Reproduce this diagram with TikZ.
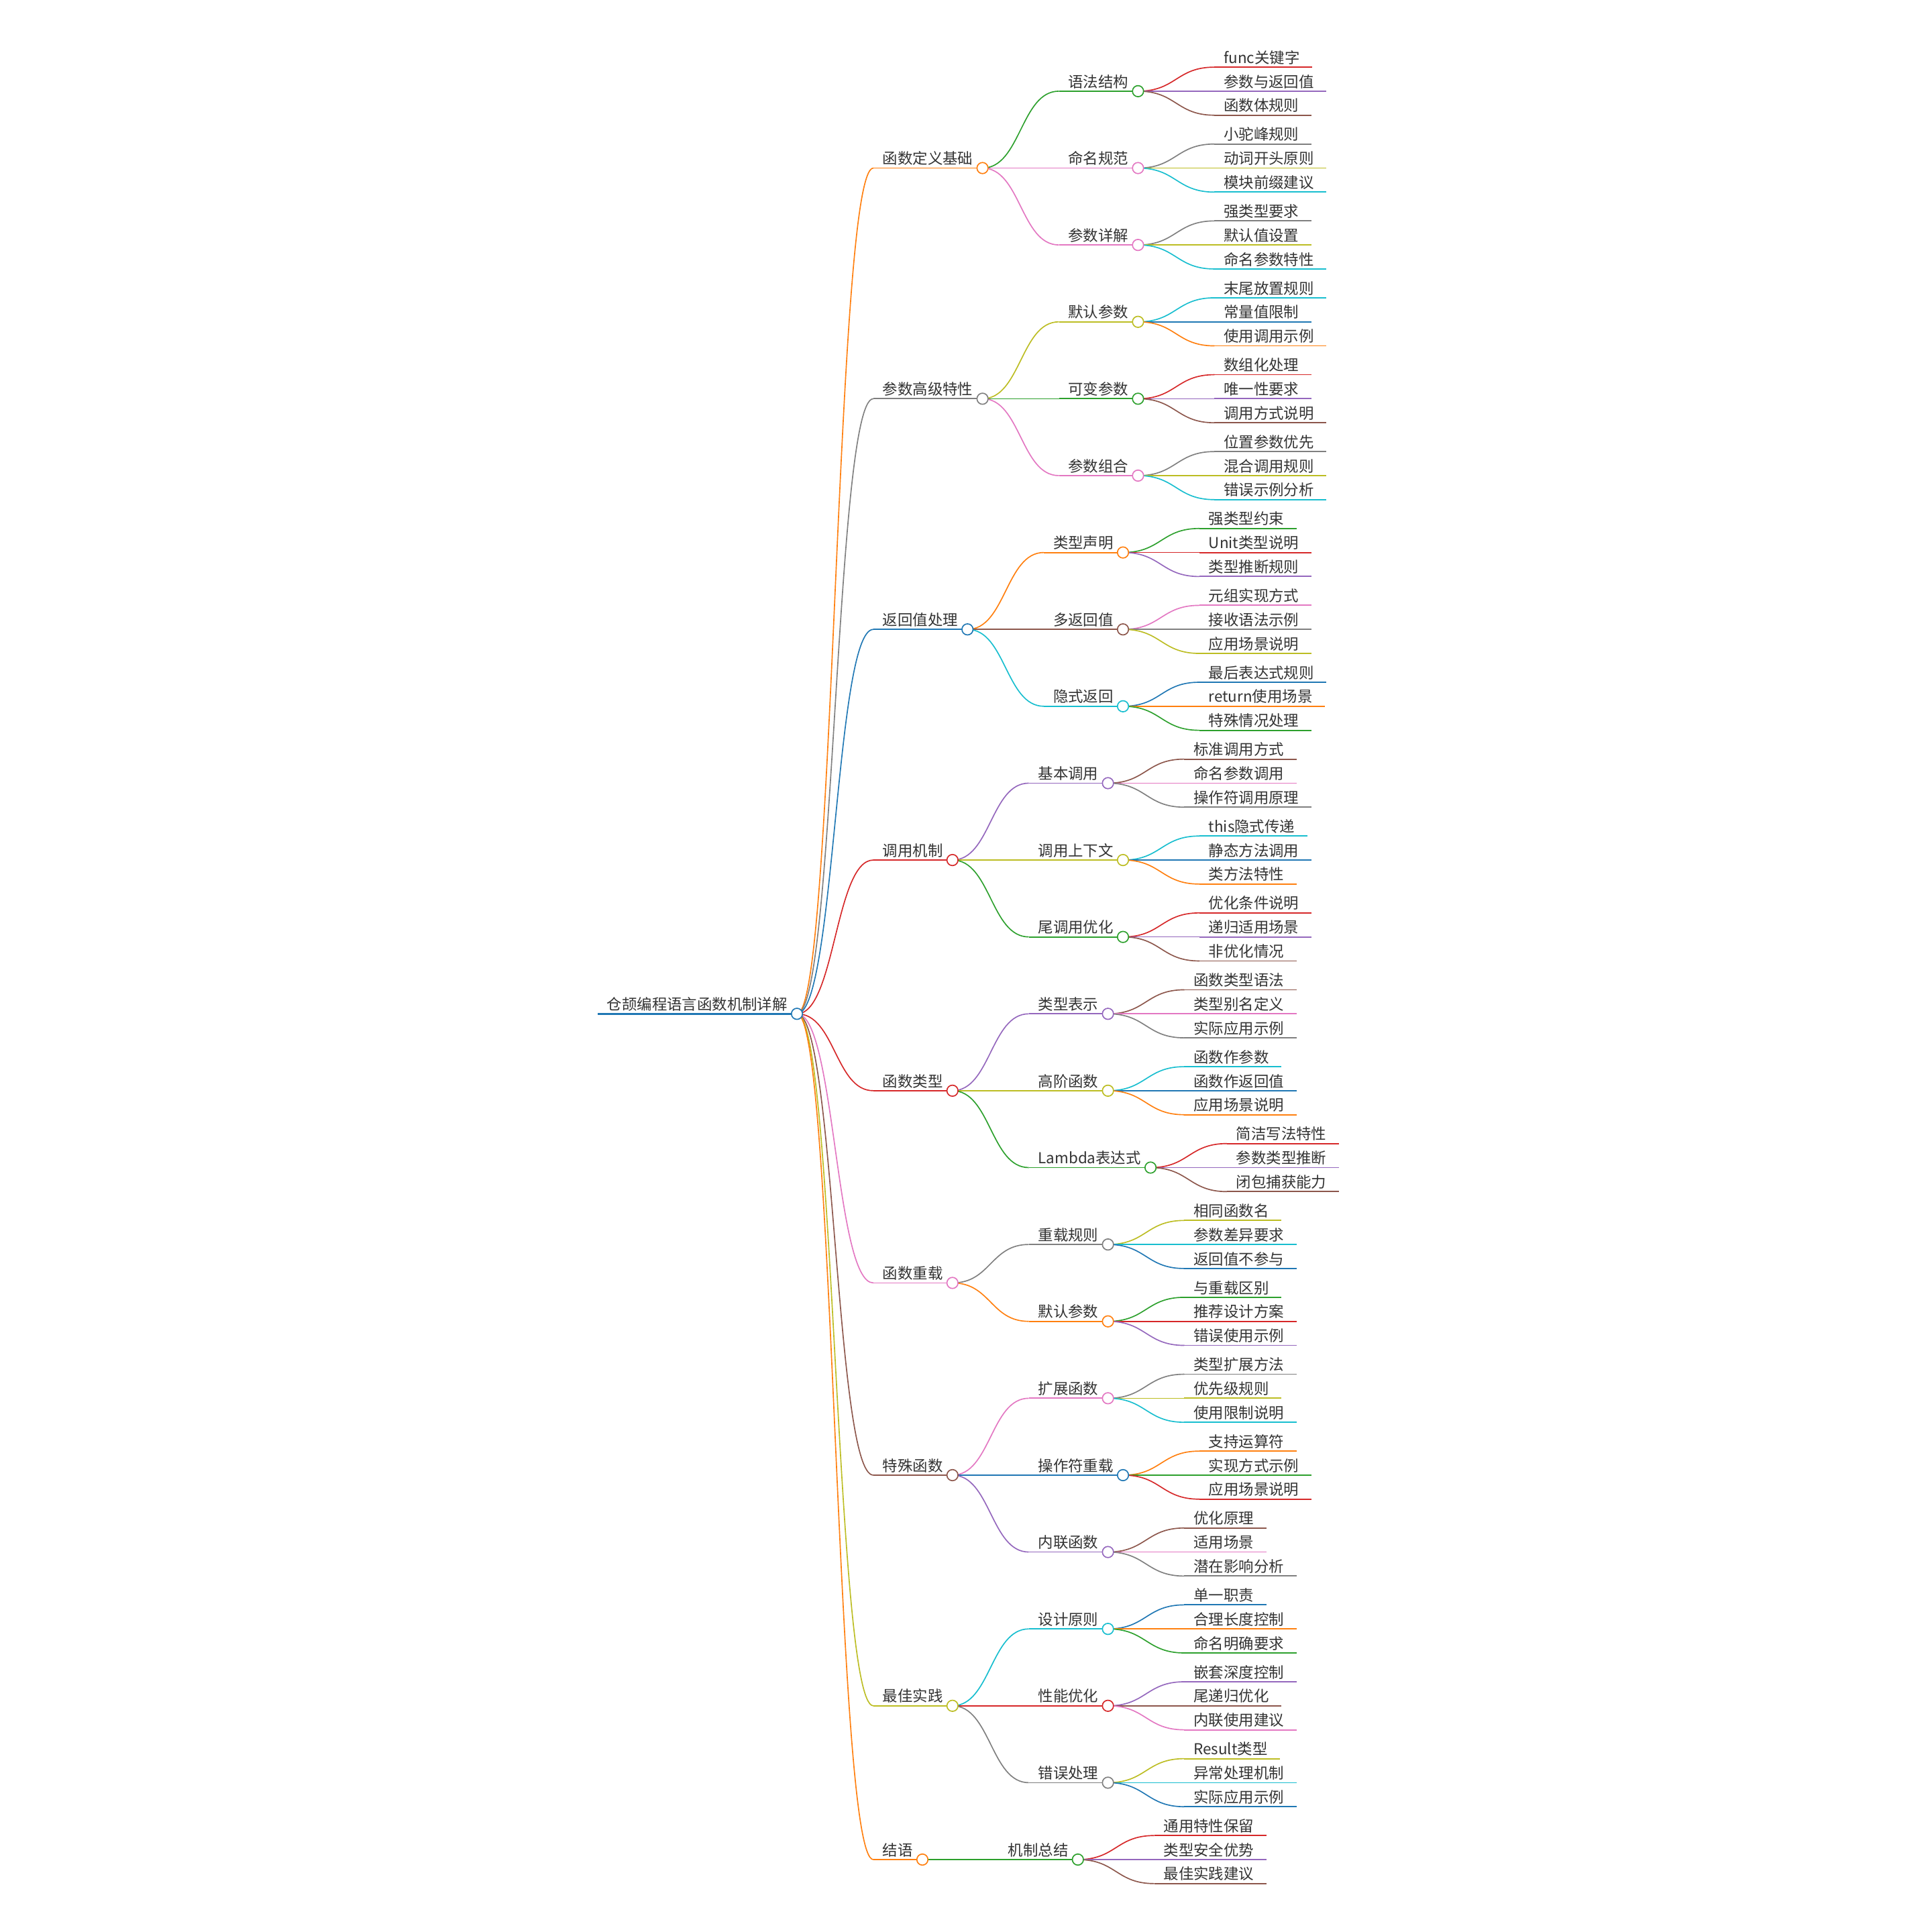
\documentclass[tikz,border=0pt]{standalone}
\usepackage{fontspec}
\setmainfont{Noto Sans CJK SC}
\usetikzlibrary{calc}
\pgfdeclarelayer{bg}
\pgfsetlayers{bg,main}
\definecolor{cBlue}{HTML}{1F77B4}
\definecolor{cOrange}{HTML}{FF7F0E}
\definecolor{cGreen}{HTML}{2CA02C}
\definecolor{cRed}{HTML}{D62728}
\definecolor{cPurple}{HTML}{9467BD}
\definecolor{cBrown}{HTML}{8C564B}
\definecolor{cPink}{HTML}{E377C2}
\definecolor{cGray}{HTML}{7F7F7F}
\definecolor{cOlive}{HTML}{BCBD22}
\definecolor{cCyan}{HTML}{17BECF}
\definecolor{mmText}{HTML}{333333}
\tikzset{
  mmtext/.style={inner sep=0pt, anchor=base west, text=mmText, font=\fontsize{12.2}{14}\selectfont},
  mmline/.style={line width=1pt},
  mmlink/.style={line width=0.9pt},
  mmdot/.style={circle, draw, fill=white, line width=0.9pt, minimum size=9pt, inner sep=0pt},
}
% #1 name, #2 parent, #3 absolute y, #4 colour, #5 text
\newcommand\mmBranch[5]{%
  \path let \p1=(#2-c) in (\x1+62pt,-#3pt) coordinate (#1-l);
  \node[mmtext] (#1) at ([xshift=7.4pt,yshift=3.2pt]#1-l) {#5};
  \path let \p1=(#1.base east), \p2=(#1-l) in (\x1+7.6pt,\y2) coordinate (#1-c);
  \begin{pgfonlayer}{bg}
    \draw[mmline,#4] (#1-l) -- (#1-c);
    \draw[mmlink,#4] (#2-c) .. controls ($(#2-c)!0.5!(#1-l |- #2-c)$) and ($(#1-l)!0.5!(#2-c |- #1-l)$) .. (#1-l);
  \end{pgfonlayer}
  \node[mmdot,draw=#4] (#1-d) at (#1-c) {};
}
% #1 name, #2 parent, #3 vertical shift, #4 colour, #5 text
\newcommand\mmLeaf[5]{%
  \path (#2-c) ++(62pt,#3) coordinate (#1-l);
  \node[mmtext] (#1) at ([xshift=7.4pt,yshift=3.2pt]#1-l) {#5};
  \path let \p1=(#1.base east), \p2=(#1-l) in (\x1+10pt,\y2) coordinate (#1-r);
  \begin{pgfonlayer}{bg}
    \draw[mmline,#4] (#1-l) -- (#1-r);
    \draw[mmlink,#4] (#2-c) .. controls ($(#2-c)!0.5!(#1-l |- #2-c)$) and ($(#1-l)!0.5!(#2-c |- #1-l)$) .. (#1-l);
  \end{pgfonlayer}
}
\newcommand\mmLeaves[7]{%
  \mmLeaf{#1a}{#1}{19.5pt}{#2}{#3}%
  \mmLeaf{#1b}{#1}{0pt}{#4}{#5}%
  \mmLeaf{#1e}{#1}{-19.5pt}{#6}{#7}%
}
\begin{document}
\begin{tikzpicture}[x=1pt,y=-1pt]
\begin{pgfonlayer}{bg}
  \fill[white] (0,0) rectangle (1568,1568);
\end{pgfonlayer}
\useasboundingbox (0,0) rectangle (1568,1568);
% root
\coordinate (r-l) at (485,822.8);
\node[mmtext] (r) at ([xshift=7.4pt,yshift=3.2pt]r-l) {仓颉编程语言函数机制详解};
\path let \p1=(r.base east), \p2=(r-l) in (\x1+7.6pt,\y2) coordinate (r-c);
\begin{pgfonlayer}{bg}
  \draw[line width=1.5pt,cBlue] (r-l) -- (r-c);
\end{pgfonlayer}
\node[mmdot,draw=cBlue] (r-d) at (r-c) {};
% level 1
\mmBranch{A}{r}{136.4}{cOrange}{函数定义基础}
\mmBranch{B}{r}{323.6}{cGray}{参数高级特性}
\mmBranch{C}{r}{510.8}{cBlue}{返回值处理}
\mmBranch{D}{r}{698.0}{cRed}{调用机制}
\mmBranch{E}{r}{885.2}{cRed}{函数类型}
\mmBranch{F}{r}{1041.2}{cPink}{函数重载}
\mmBranch{G}{r}{1197.2}{cBrown}{特殊函数}
\mmBranch{H}{r}{1384.4}{cOlive}{最佳实践}
\mmBranch{I}{r}{1509.2}{cOrange}{结语}
% level 2 and leaves
\mmBranch{A1}{A}{74.0}{cGreen}{语法结构}
\mmLeaves{A1}{cRed}{func关键字}{cPurple}{参数与返回值}{cBrown}{函数体规则}
\mmBranch{A2}{A}{136.4}{cPink}{命名规范}
\mmLeaves{A2}{cGray}{小驼峰规则}{cOlive}{动词开头原则}{cCyan}{模块前缀建议}
\mmBranch{A3}{A}{198.8}{cPink}{参数详解}
\mmLeaves{A3}{cGray}{强类型要求}{cOlive}{默认值设置}{cCyan}{命名参数特性}
\mmBranch{B1}{B}{261.2}{cOlive}{默认参数}
\mmLeaves{B1}{cCyan}{末尾放置规则}{cBlue}{常量值限制}{cOrange}{使用调用示例}
\mmBranch{B2}{B}{323.6}{cGreen}{可变参数}
\mmLeaves{B2}{cRed}{数组化处理}{cPurple}{唯一性要求}{cBrown}{调用方式说明}
\mmBranch{B3}{B}{386.0}{cPink}{参数组合}
\mmLeaves{B3}{cGray}{位置参数优先}{cOlive}{混合调用规则}{cCyan}{错误示例分析}
\mmBranch{C1}{C}{448.4}{cOrange}{类型声明}
\mmLeaves{C1}{cGreen}{强类型约束}{cRed}{Unit类型说明}{cPurple}{类型推断规则}
\mmBranch{C2}{C}{510.8}{cBrown}{多返回值}
\mmLeaves{C2}{cPink}{元组实现方式}{cGray}{接收语法示例}{cOlive}{应用场景说明}
\mmBranch{C3}{C}{573.2}{cCyan}{隐式返回}
\mmLeaves{C3}{cBlue}{最后表达式规则}{cOrange}{return使用场景}{cGreen}{特殊情况处理}
\mmBranch{D1}{D}{635.6}{cPurple}{基本调用}
\mmLeaves{D1}{cBrown}{标准调用方式}{cPink}{命名参数调用}{cGray}{操作符调用原理}
\mmBranch{D2}{D}{698.0}{cOlive}{调用上下文}
\mmLeaves{D2}{cCyan}{this隐式传递}{cBlue}{静态方法调用}{cOrange}{类方法特性}
\mmBranch{D3}{D}{760.4}{cGreen}{尾调用优化}
\mmLeaves{D3}{cRed}{优化条件说明}{cPurple}{递归适用场景}{cBrown}{非优化情况}
\mmBranch{E1}{E}{822.8}{cPurple}{类型表示}
\mmLeaves{E1}{cBrown}{函数类型语法}{cPink}{类型别名定义}{cGray}{实际应用示例}
\mmBranch{E2}{E}{885.2}{cOlive}{高阶函数}
\mmLeaves{E2}{cCyan}{函数作参数}{cBlue}{函数作返回值}{cOrange}{应用场景说明}
\mmBranch{E3}{E}{947.6}{cGreen}{Lambda表达式}
\mmLeaves{E3}{cRed}{简洁写法特性}{cPurple}{参数类型推断}{cBrown}{闭包捕获能力}
\mmBranch{F1}{F}{1010.0}{cGray}{重载规则}
\mmLeaves{F1}{cOlive}{相同函数名}{cCyan}{参数差异要求}{cBlue}{返回值不参与}
\mmBranch{F2}{F}{1072.4}{cOrange}{默认参数}
\mmLeaves{F2}{cGreen}{与重载区别}{cRed}{推荐设计方案}{cPurple}{错误使用示例}
\mmBranch{G1}{G}{1134.8}{cPink}{扩展函数}
\mmLeaves{G1}{cGray}{类型扩展方法}{cOlive}{优先级规则}{cCyan}{使用限制说明}
\mmBranch{G2}{G}{1197.2}{cBlue}{操作符重载}
\mmLeaves{G2}{cOrange}{支持运算符}{cGreen}{实现方式示例}{cRed}{应用场景说明}
\mmBranch{G3}{G}{1259.6}{cPurple}{内联函数}
\mmLeaves{G3}{cBrown}{优化原理}{cPink}{适用场景}{cGray}{潜在影响分析}
\mmBranch{H1}{H}{1322.0}{cCyan}{设计原则}
\mmLeaves{H1}{cBlue}{单一职责}{cOrange}{合理长度控制}{cGreen}{命名明确要求}
\mmBranch{H2}{H}{1384.4}{cRed}{性能优化}
\mmLeaves{H2}{cPurple}{嵌套深度控制}{cBrown}{尾递归优化}{cPink}{内联使用建议}
\mmBranch{H3}{H}{1446.8}{cGray}{错误处理}
\mmLeaves{H3}{cOlive}{Result类型}{cCyan}{异常处理机制}{cBlue}{实际应用示例}
\mmBranch{I1}{I}{1509.2}{cGreen}{机制总结}
\mmLeaves{I1}{cRed}{通用特性保留}{cPurple}{类型安全优势}{cBrown}{最佳实践建议}
\end{tikzpicture}
\end{document}
